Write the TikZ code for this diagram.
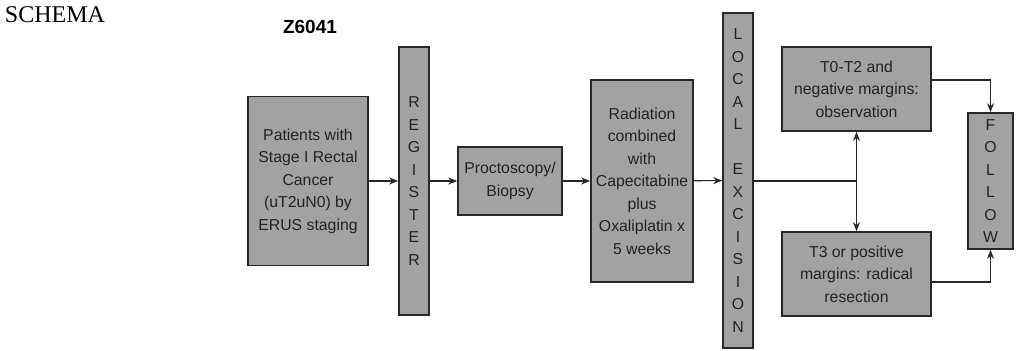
\documentclass[tikz,border=0pt]{standalone}
\usepackage{fontspec}
\setmainfont{Liberation Serif}
\setsansfont{Liberation Sans}
\usetikzlibrary{arrows.meta,positioning}
\definecolor{boxfill}{RGB}{162,162,162}
\definecolor{boxline}{RGB}{40,40,40}
\definecolor{boxtext}{RGB}{35,35,35}

\begin{document}
\begin{tikzpicture}[
    x=0.5pt, y=-0.5pt,
    stagebox/.style={rectangle,draw=boxline,fill=boxfill,line width=0.8pt,
        inner sep=1pt,align=center,text=boxtext,
        font=\sffamily\fontsize{7.9}{11.25}\selectfont},
    barbox/.style={stagebox,minimum width=15pt},
    link/.style={draw=boxline,line width=0.55pt},
    >={Stealth[length=4.5pt,width=3.5pt]},
    ]
    \useasboundingbox (0,0) rectangle (1026,350);

    %Titles
    \node (schema) at (55,15) {\fontsize{12}{14}\selectfont SCHEMA};
    \node (study) at (310,27) {\sffamily\bfseries\fontsize{9.5}{11}\selectfont Z6041};

    %Boxes
    \node[stagebox,minimum width=60pt,minimum height=84.5pt] (patients) at (308,181)
        {Patients with\\Stage I Rectal\\Cancer\\(uT2uN0) by\\ERUS staging};
    \node[barbox,minimum height=134pt] (register) at (414,181)
        {R\\E\\G\\I\\S\\T\\E\\R};
    \node[stagebox,minimum width=52pt,minimum height=34pt] (biopsy) at (510,181)
        {Proctoscopy/\\Biopsy};
    \node[stagebox,minimum width=51pt,minimum height=101pt] (radiation) at (642,181)
        {Radiation\\combined\\with\\Capecitabine\\plus\\Oxaliplatin x\\5 weeks};
    \node[barbox,minimum height=167.5pt] (excision) at (738,180.5)
        {L\\O\\C\\A\\L\\~\\E\\X\\C\\I\\S\\I\\O\\N};
    \node[stagebox,minimum width=74.5pt,minimum height=42pt] (observe) at (856.5,89)
        {T0-T2 and\\negative margins:\\observation};
    \node[stagebox,minimum width=74.5pt,minimum height=42pt] (resect) at (856.5,274)
        {T3 or positive\\margins: radical\\resection};
    \node[barbox,minimum width=22.5pt,minimum height=68pt] (follow) at (990.5,181)
        {F\\O\\L\\L\\O\\W};

    %Connectors
    \coordinate (split) at (856.5,181);
    \draw[link,->] (patients) -- (register);
    \draw[link,->] (register) -- (biopsy);
    \draw[link,->] (biopsy) -- (radiation);
    \draw[link,->] (radiation) -- (excision);
    \draw[link] (excision.east |- split) -- (split);
    \draw[link,->] (split) -- (observe);
    \draw[link,->] (split) -- (resect);
    \draw[link,->] ([yshift=4.5pt]observe.east) -| (follow.north);
    \draw[link,->] ([yshift=-4pt]resect.east) -| (follow.south);

\end{tikzpicture}
\end{document}
